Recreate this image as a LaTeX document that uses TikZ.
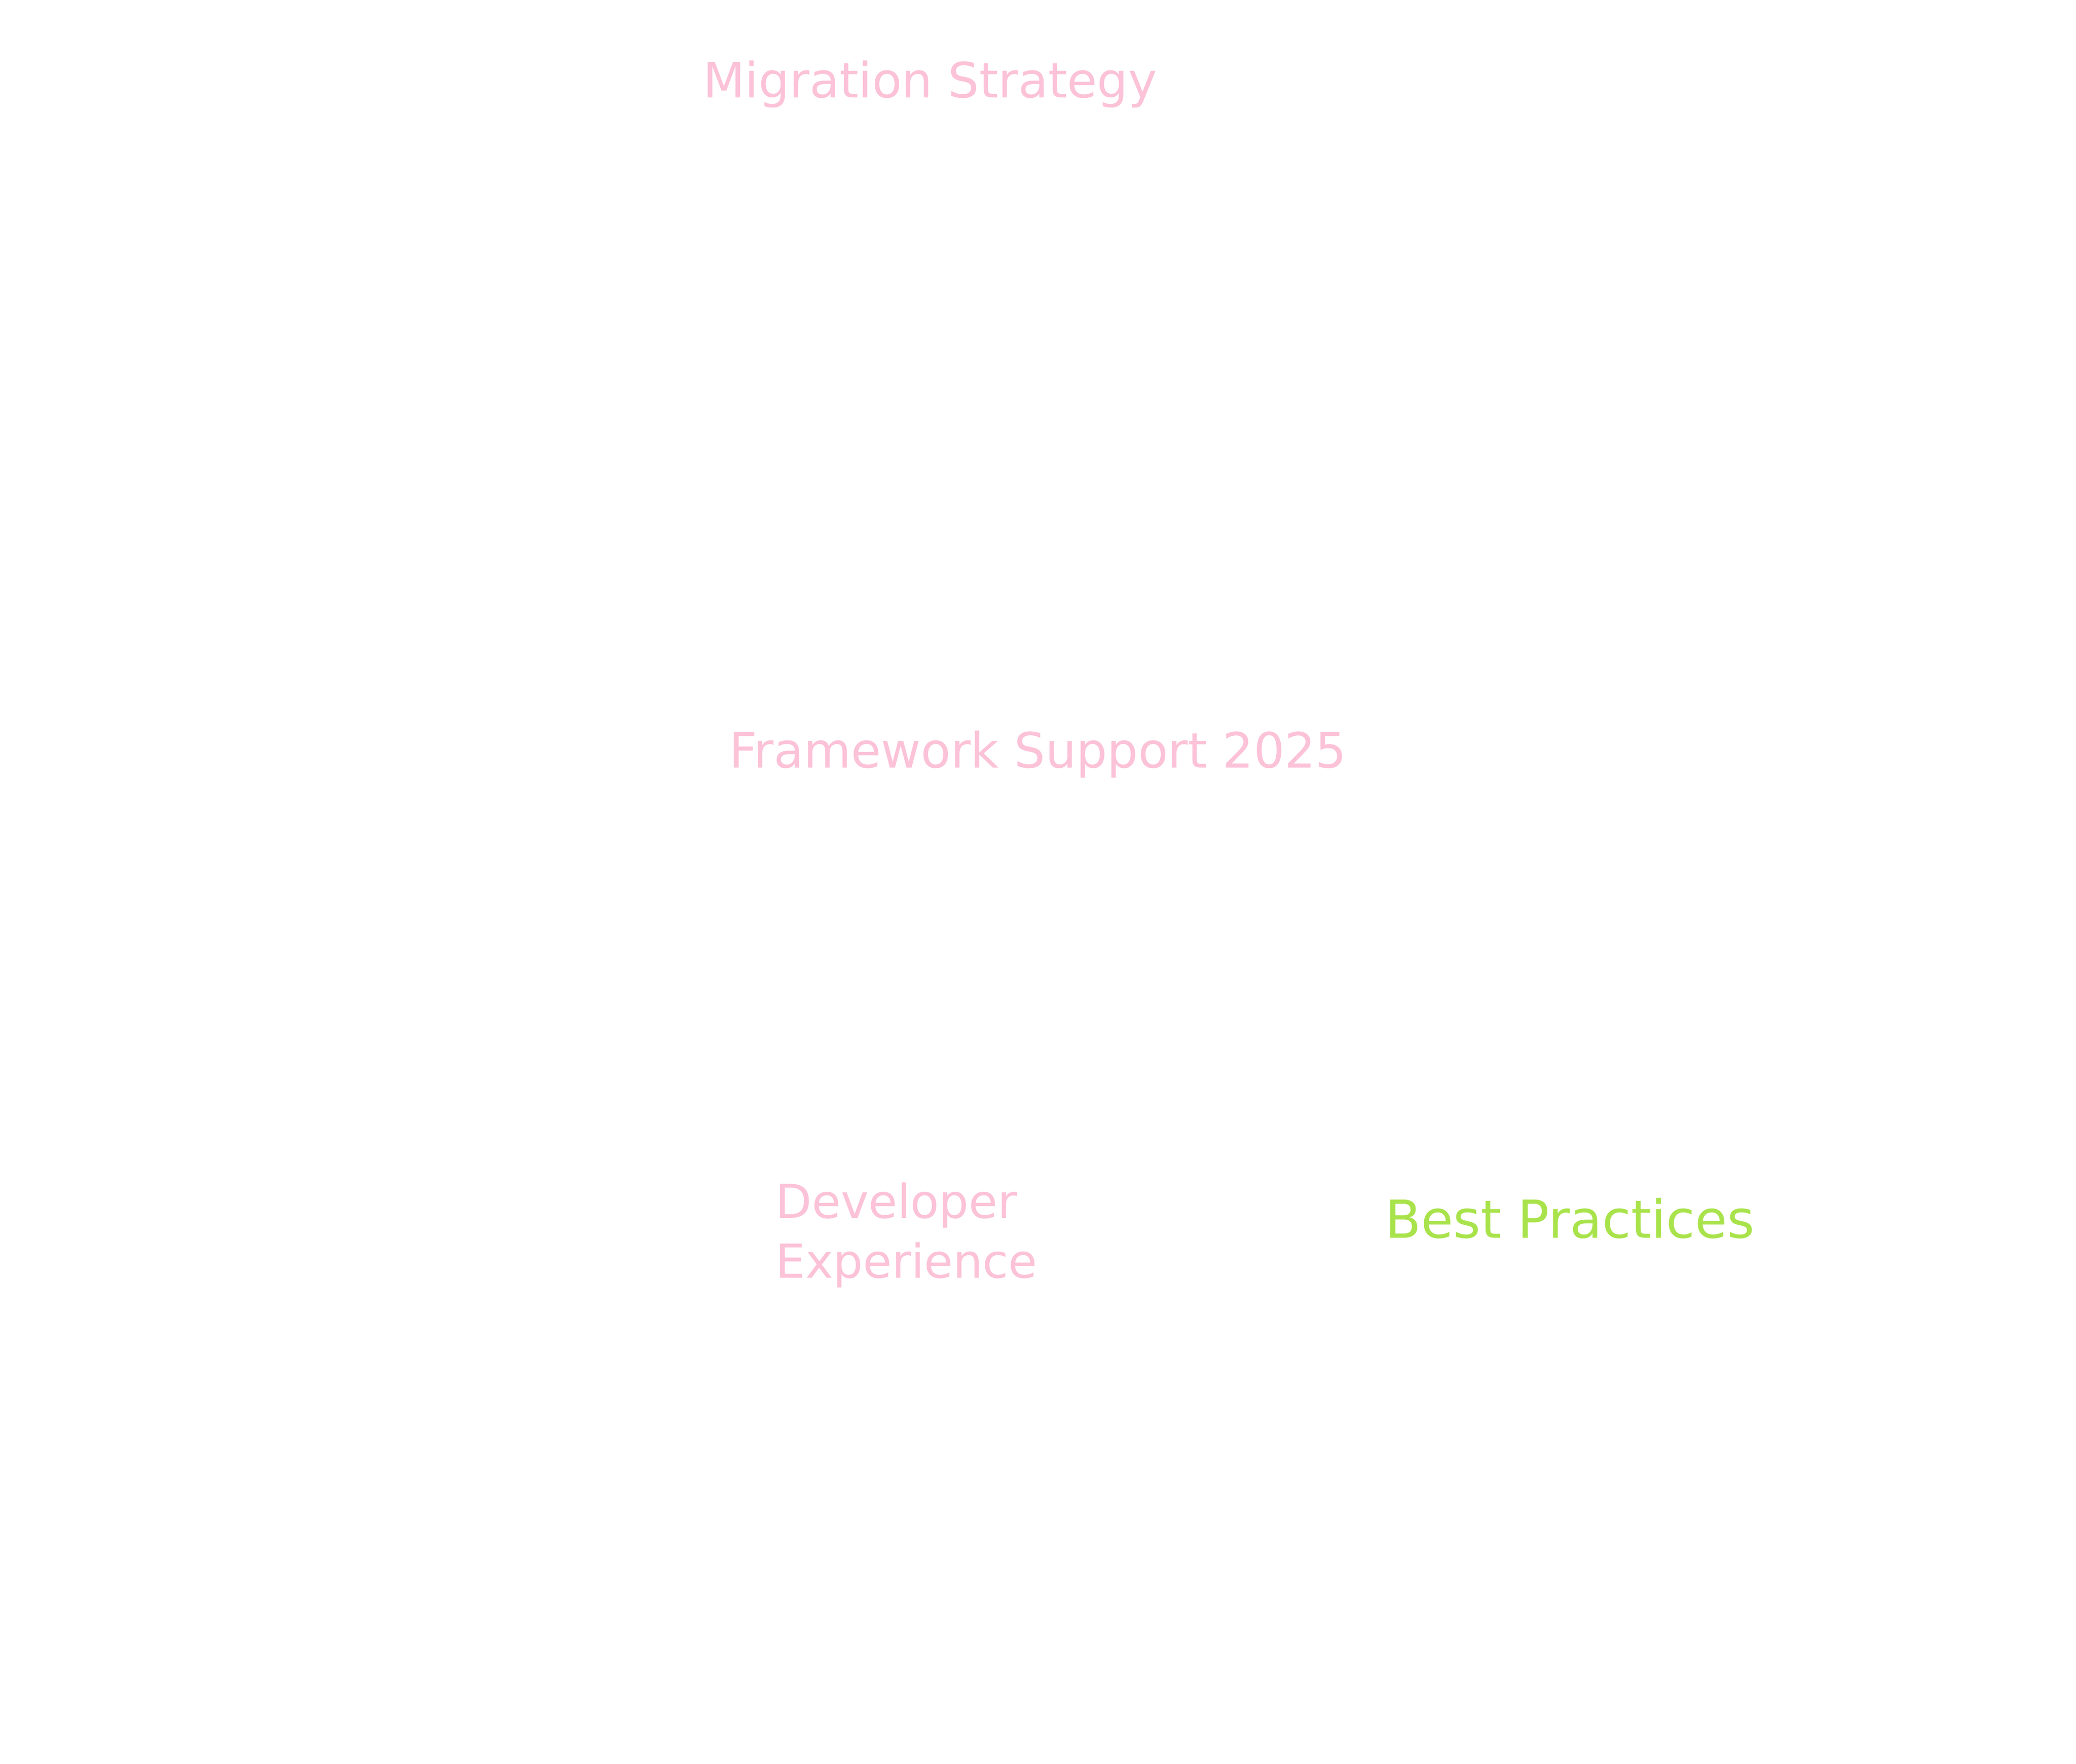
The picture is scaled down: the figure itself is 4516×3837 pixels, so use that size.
\documentclass[tikz,border=0pt]{standalone}
\usepackage{fontspec}
\setmainfont{DejaVu Sans}
\definecolor{lblpink}{HTML}{FCC2D7}
\definecolor{lblgreen}{HTML}{A9E34B}
\begin{document}
\begin{tikzpicture}[x=0.25pt,y=-0.25pt,
  lbl/.style={inner sep=0pt,font=\fontsize{26.5}{32.5}\selectfont},
  pinklbl/.style={lbl,text=lblpink},
  greenlbl/.style={lbl,text=lblgreen}]
\fill[white] (0,0) rectangle (4516,3837);
\useasboundingbox (0,0) rectangle (4516,3837);
\node[pinklbl,anchor=base] (migration) at (2023,212) {Migration Strategy};
\node[pinklbl,anchor=base] (framework) at (2258,1670) {Framework Support 2025};
\node[pinklbl,anchor=base west,font=\fontsize{25.5}{32.5}\selectfont] (devexp) at (1687,2650)
  {\vtop{\baselineskip=32.5pt\hbox{Developer}\hbox{Experience}}};
\node[greenlbl,anchor=base,font=\fontsize{28.5}{34}\selectfont] (best) at (3415,2693) {Best Practices};
\end{tikzpicture}
\end{document}
